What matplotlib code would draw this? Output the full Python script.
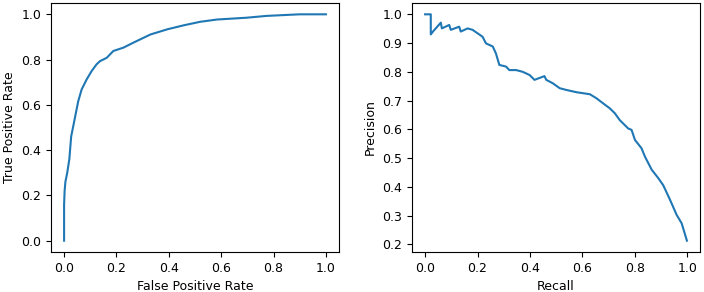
import matplotlib
matplotlib.use("Agg")
import matplotlib.pyplot as plt

# ROC curve points
fpr = [0.0, 0.0, 0.0, 0.002, 0.005, 0.012, 0.02, 0.027, 0.04, 0.054, 0.067, 0.086,
       0.105, 0.124, 0.137, 0.163, 0.188, 0.227, 0.265, 0.33, 0.395, 0.459, 0.52,
       0.584, 0.697, 0.773, 0.9, 1.0]
tpr = [0.0, 0.10, 0.16, 0.22, 0.26, 0.30, 0.36, 0.46, 0.535, 0.616, 0.668, 0.712,
       0.749, 0.779, 0.793, 0.808, 0.838, 0.853, 0.875, 0.911, 0.934, 0.952, 0.967,
       0.977, 0.985, 0.993, 1.0, 1.0]

# Precision-recall curve points
recall = [0.0, 0.0217, 0.0217, 0.03, 0.06, 0.064, 0.092, 0.098, 0.13, 0.136, 0.162,
          0.181, 0.2, 0.219, 0.232, 0.258, 0.27, 0.283, 0.309, 0.321, 0.347, 0.372,
          0.398, 0.417, 0.455, 0.462, 0.487, 0.513, 0.538, 0.577, 0.628, 0.653,
          0.679, 0.704, 0.723, 0.742, 0.774, 0.787, 0.800, 0.825, 0.838, 0.864,
          0.889, 0.908, 0.934, 0.959, 0.978, 0.998]
precision = [1.0, 1.0, 0.93, 0.94, 0.971, 0.951, 0.963, 0.946, 0.957, 0.94, 0.951,
             0.946, 0.934, 0.922, 0.899, 0.888, 0.864, 0.824, 0.818, 0.806, 0.806,
             0.8, 0.789, 0.772, 0.785, 0.772, 0.76, 0.743, 0.737, 0.729, 0.722,
             0.708, 0.690, 0.673, 0.656, 0.632, 0.603, 0.598, 0.563, 0.534, 0.505,
             0.459, 0.430, 0.405, 0.354, 0.302, 0.273, 0.2125]

W, H = 704, 292
plt.rcParams["font.size"] = 9
fig = plt.figure(figsize=(W / 100, H / 100), dpi=100)

def box(x0, x1, y0, y1):
    return [x0 / W, 1 - y1 / H, (x1 - x0) / W, (y1 - y0) / H]

ax1 = fig.add_axes(box(51, 339, 3, 252))
ax2 = fig.add_axes(box(412, 700, 3, 252))

ax1.plot(fpr, tpr, color="#1f77b4", lw=1.5)
ax1.set_xlabel("False Positive Rate")
ax1.set_ylabel("True Positive Rate")
ax1.set_xticks([0.0, 0.2, 0.4, 0.6, 0.8, 1.0])
ax1.set_yticks([0.0, 0.2, 0.4, 0.6, 0.8, 1.0])

ax2.plot(recall, precision, color="#1f77b4", lw=1.5)
ax2.set_xlabel("Recall")
ax2.set_ylabel("Precision")
ax2.set_xticks([0.0, 0.2, 0.4, 0.6, 0.8, 1.0])
ax2.set_yticks([0.2, 0.3, 0.4, 0.5, 0.6, 0.7, 0.8, 0.9, 1.0])

fig.savefig("out.png", dpi=100)
